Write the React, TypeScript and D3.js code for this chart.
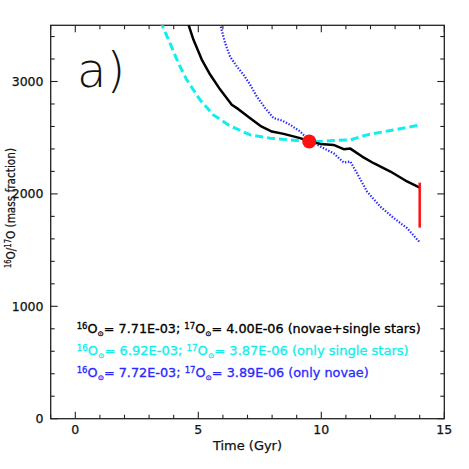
import React from "react";
import * as d3 from "d3";

const W = 469;
const H = 469;

// data: [time (Gyr), 16O/17O]
const blackSeries: [number, number][] = [
  [4.52, 3560], [4.8, 3373], [5.14, 3195], [5.48, 3062], [5.89, 2928], [6.36, 2793],
  [6.63, 2754], [7.11, 2674], [7.52, 2606], [7.99, 2555], [8.47, 2534], [9.14, 2496],
  [9.51, 2466], [9.96, 2445], [10.5, 2436], [10.91, 2398], [11.18, 2403], [11.66, 2332],
  [12.13, 2273], [12.81, 2199], [13.42, 2119], [14.0, 2056],
];
const cyanSeries: [number, number][] = [
  [3.45, 3540], [3.85, 3342], [4.19, 3164], [4.53, 3015], [5.07, 2837], [5.61, 2703],
  [6.29, 2605], [7.11, 2525], [7.92, 2496], [9.01, 2475], [9.82, 2466], [10.5, 2475],
  [11.18, 2481], [11.86, 2525], [12.81, 2564], [14.0, 2612],
];
const blueSeries: [number, number][] = [
  [5.85, 3540], [6.09, 3342], [6.29, 3222], [6.57, 3133], [6.84, 3059], [7.11, 2970],
  [7.38, 2866], [7.72, 2763], [8.06, 2674], [8.4, 2653], [8.74, 2614], [9.14, 2555],
  [9.28, 2525], [9.96, 2421], [10.5, 2362], [10.91, 2279], [11.18, 2288], [11.45, 2184],
  [11.86, 2021], [12.4, 1887], [12.95, 1784], [13.49, 1695], [14.0, 1570],
];
const sunPoint: [number, number] = [9.51, 2466];
const errorBar = { x: 14.0, lo: 1700, hi: 2100 };

const xTickLabels = [0, 5, 10, 15];
const yTickLabels = [0, 1000, 2000, 3000];

const legendO16 = ["7.71E-03", "6.92E-03", "7.72E-03"];
const legendO17 = ["4.00E-06", "3.87E-06", "3.89E-06"];
const legendNames = ["novae+single stars", "only single stars", "only novae"];
const legendColors = ["#000000", "#11eeee", "#2a2aff"];
const legendWidths = [344, 332, 292];

const FONT = "'DejaVu Sans', sans-serif";

export default function App() {
  const x = d3.scaleLinear().domain([-1, 15]).range([50.7, 444.3]);
  const y = d3.scaleLinear().domain([0, 3500]).range([418.7, 25.3]);
  const line = d3
    .line<[number, number]>()
    .x((d) => x(d[0]))
    .y((d) => y(d[1]))
    .curve(d3.curveLinear);

  const xMinor = d3.range(-1, 16, 1);
  const yMinor = d3.range(0, 3501, 200);
  const [x0, x1] = x.range();
  const [y0, y1] = y.range();

  return (
    <svg
      width={W}
      height={H}
      style={{ position: "fixed", left: 0, top: 0, background: "#fff" }}
      fontFamily={FONT}
    >
      <defs>
        <clipPath id="plotclip">
          <rect x={x0} y={y1} width={x1 - x0} height={y0 - y1} />
        </clipPath>
      </defs>
      <rect width={W} height={H} fill="#fff" />

      {/* ticks */}
      <g stroke="#222" strokeWidth={1.1}>
        {xMinor.map((v) => {
          const len = v % 5 === 0 ? 7 : 4;
          return (
            <g key={"xt" + v}>
              <line x1={x(v)} x2={x(v)} y1={y0} y2={y0 - len} />
              <line x1={x(v)} x2={x(v)} y1={y1} y2={y1 + len} />
            </g>
          );
        })}
        {yMinor.map((v) => {
          const len = v % 1000 === 0 ? 7 : 4;
          return (
            <g key={"yt" + v}>
              <line x1={x0} x2={x0 + len} y1={y(v)} y2={y(v)} />
              <line x1={x1} x2={x1 - len} y1={y(v)} y2={y(v)} />
            </g>
          );
        })}
      </g>
      <rect x={x0} y={y1} width={x1 - x0} height={y0 - y1} fill="none" stroke="#222" strokeWidth={1.3} />

      {/* tick labels */}
      <g fontSize={12.5} fill="#111" stroke="#111" strokeWidth={0.25}>
        {xTickLabels.map((v) => (
          <text key={"xl" + v} x={x(v)} y={434} textAnchor="middle">
            {v}
          </text>
        ))}
        {yTickLabels.map((v) => (
          <text key={"yl" + v} x={43.5} y={y(v) + 4.5} textAnchor="end">
            {v}
          </text>
        ))}
      </g>

      {/* axis titles */}
      <text x={247.5} y={450} textAnchor="middle" fontSize={12.5} fill="#111" stroke="#111" strokeWidth={0.25} textLength={69} lengthAdjust="spacingAndGlyphs">
        Time (Gyr)
      </text>
      <text
        transform="translate(15,208) rotate(-90)"
        textAnchor="middle"
        fontSize={12.5}
        fill="#111"
        stroke="#111"
        strokeWidth={0.25}
        textLength={120}
        lengthAdjust="spacingAndGlyphs"
      >
        <tspan fontSize={8} dy={-4}>16</tspan>
        <tspan dy={4}>O/</tspan>
        <tspan fontSize={8} dy={-4}>17</tspan>
        <tspan dy={4}>O (mass fraction)</tspan>
      </text>

      {/* panel label */}
      <text x={77} y={87} fontSize={48} fontWeight={200} fill="#111">
        a)
      </text>

      {/* curves */}
      <g clipPath="url(#plotclip)" fill="none">
        <path d={line(cyanSeries) || ""} stroke="#11eeee" strokeWidth={3} strokeDasharray="8 4" />
        <path d={line(blueSeries) || ""} stroke="#2a2aff" strokeWidth={2.2} strokeDasharray="1.4 1.6" />
        <path d={line(blackSeries) || ""} stroke="#000" strokeWidth={2.5} strokeLinejoin="round" />
      </g>

      {/* error bar and sun point */}
      <line
        x1={x(errorBar.x)}
        x2={x(errorBar.x)}
        y1={y(errorBar.lo)}
        y2={y(errorBar.hi)}
        stroke="#ff1111"
        strokeWidth={2.5}
      />
      <circle cx={x(sunPoint[0])} cy={y(sunPoint[1])} r={7} fill="#ff1111" />

      {/* legend text */}
      {legendO16.map((o16, i) => (
        <text
          key={"lg" + i}
          x={76.7}
          y={333 + i * 21.8}
          fontSize={12}
          fill={legendColors[i]}
          stroke={legendColors[i]}
          strokeWidth={0.3}
          textLength={legendWidths[i]}
          lengthAdjust="spacingAndGlyphs"
        >
          <tspan fontSize={8} dy={-4}>16</tspan>
          <tspan dy={4}>O</tspan>
          <tspan fontSize={7} dy={3}>⊙</tspan>
          <tspan dy={-3}>{"= " + o16 + "; "}</tspan>
          <tspan fontSize={8} dy={-4}>17</tspan>
          <tspan dy={4}>O</tspan>
          <tspan fontSize={7} dy={3}>⊙</tspan>
          <tspan dy={-3}>{"= " + legendO17[i] + " (" + legendNames[i] + ")"}</tspan>
        </text>
      ))}
    </svg>
  );
}
